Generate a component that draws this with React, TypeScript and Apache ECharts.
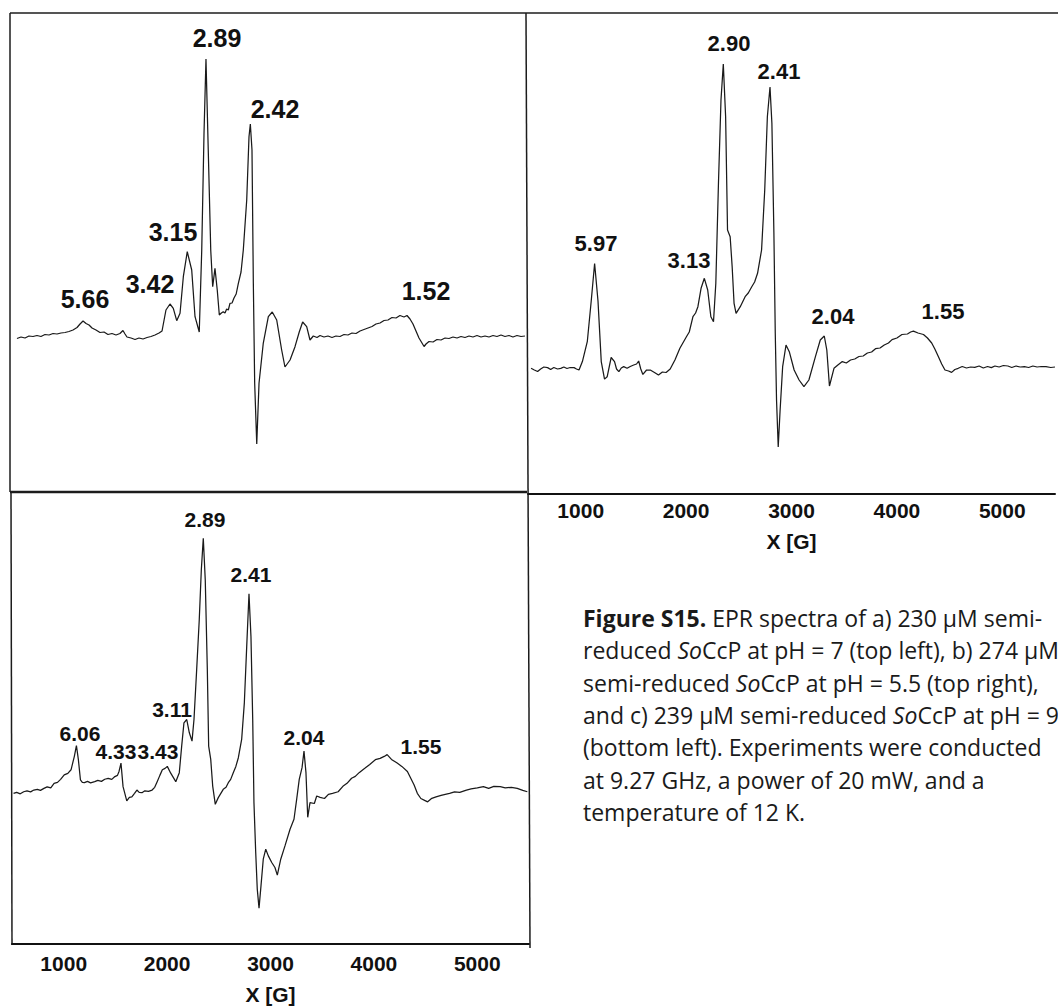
import React, { useEffect, useRef } from "react";
import * as echarts from "echarts";

// EPR spectra as [magnetic field (G), signal (arb. units, baseline = 0)]
// a) pH 7
const spectrumA: [number, number][] = [
  [548, -2.5], [587, -1], [626, -2], [664, 0], [703, -0.5], [742, 0.5], [780, -0.5], [819, 1.5], [858, 1], [897, 2.5],
  [935, 2], [974, 3], [1013, 3.5], [1051, 4.5], [1090, 6], [1129, 8.5], [1158, 12], [1187, 15], [1216, 12.5], [1245, 11],
  [1274, 8], [1312, 6], [1351, 3.5], [1390, 4], [1428, 1.5], [1467, 2.5], [1506, 1], [1544, 2.5], [1573, 5.5], [1593, 2],
  [1612, -1], [1651, -2], [1690, -3.5], [1728, -2], [1767, -3], [1806, -1.5], [1844, -0.5], [1883, 1], [1922, 3], [1951, 5],
  [1989, 26], [2028, 32], [2060, 27.7], [2093, 15.3], [2125, 22.7], [2157, 59.3], [2195, 84.3], [2238, 66], [2270, 19.3], [2311, 4],
  [2335, 86], [2357, 202.7], [2376, 277], [2398, 186], [2422, 86], [2441, 49.3], [2463, 67.7], [2485, 46], [2505, 21], [2525, 23],
  [2543, 24.3], [2560, 23], [2576, 27], [2592, 26], [2608, 32.7], [2628, 33], [2647, 38], [2668, 42], [2689, 52.7], [2715, 64],
  [2737, 86], [2770, 136], [2792, 199.3], [2805, 212], [2821, 186], [2834, 52.7], [2847, -47.3], [2867, -108], [2889, -47.3], [2930, -7.3],
  [2979, 19.3], [3017, 24], [3060, 16], [3108, -14], [3140, -31], [3189, -24], [3237, -10.7], [3278, 4], [3311, 14], [3350, 9.3],
  [3382, -4], [3414, 0], [3450, -1.5], [3479, 0.5], [3517, -1], [3556, 0], [3595, -1.5], [3633, 0], [3672, -0.5], [3711, 1.5],
  [3749, 1], [3788, 3], [3827, 2.5], [3866, 5], [3904, 6.5], [3943, 8], [3982, 9.5], [4020, 12], [4059, 13], [4098, 15.5],
  [4136, 16], [4175, 18.5], [4214, 18], [4252, 20.5], [4291, 19], [4320, 20.5], [4349, 17], [4378, 12], [4407, 5], [4436, -2],
  [4465, -7], [4485, -10.5], [4504, -8], [4533, -5.5], [4572, -6], [4610, -3.5], [4649, -4], [4688, -2], [4726, -2.5], [4765, -1],
  [4804, -2], [4842, -0.5], [4881, -1.5], [4920, 0], [4958, -1], [4997, 0.5], [5036, -1], [5074, 0], [5113, -1], [5152, 0.5],
  [5190, -0.5], [5229, 1], [5268, -0.5], [5306, 0.5], [5345, -1], [5384, 0.5], [5423, -0.5], [5461, 0],
];

// b) pH 5.5
const spectrumB: [number, number][] = [
  [529, -0.3], [560, -2], [591, -3.5], [620, -1], [650, 1], [686, 0.4], [715, -1.5], [745, 0.5], [780, -1], [811, -0.3],
  [840, 1], [870, -0.5], [900, 0.5], [937, 0.4], [960, -1], [984, -2], [1016, 6.4], [1063, 26.7], [1100, 67.3], [1132, 104.5],
  [1164, 67.3], [1195, 6.4], [1226, -11.1], [1251, -8.8], [1289, 10.5], [1321, 6.4], [1340, -1], [1362, -3.7], [1385, 0], [1408, 1.4],
  [1440, -0.3], [1470, 1.5], [1503, 3], [1530, 4], [1550, 7], [1570, -1], [1590, -6.4], [1625, -2], [1660, -2], [1700, -4.5],
  [1738, -7.1], [1775, -4], [1810, -4.5], [1849, -1], [1894, 8], [1941, 19.7], [2003, 31.3], [2030, 36], [2065, 51.3], [2090, 55],
  [2112, 61.3], [2142, 79.7], [2173, 89.7], [2205, 78], [2235, 51.3], [2260, 46.3], [2282, 84.7], [2307, 184.7], [2331, 268], [2353, 304],
  [2375, 251.3], [2393, 138], [2418, 131.3], [2437, 101.3], [2455, 64.7], [2474, 54.7], [2514, 61.3], [2560, 71.3], [2590, 75], [2623, 81.3],
  [2650, 86], [2678, 94.7], [2716, 118], [2746, 178], [2771, 251.3], [2796, 281], [2814, 244.7], [2833, 134.7], [2846, 34.7], [2858, -32],
  [2874, -79], [2892, -42], [2916, 1.3], [2948, 23], [2979, 16.3], [3025, -2], [3072, -12], [3118, -18.7], [3165, -12], [3227, 11.3],
  [3273, 28], [3311, 32], [3335, 18], [3360, -18], [3403, -0.3], [3440, 3], [3482, 6.4], [3520, 5], [3560, 8], [3600, 9],
  [3640, 11.5], [3680, 12], [3720, 15], [3760, 16], [3797, 19.3], [3840, 20], [3880, 23], [3920, 25], [3954, 28.4], [4000, 30],
  [4048, 33.5], [4100, 34], [4130, 36], [4157, 36.9], [4200, 35], [4252, 33.5], [4290, 30], [4330, 25], [4360, 19], [4393, 11.5],
  [4425, 4], [4456, -2], [4490, -3], [4519, -4.4], [4550, -1.5], [4582, -0.3], [4620, 1.5], [4660, 0], [4700, 1], [4739, 0.7],
  [4780, 2], [4820, 0], [4860, 1.5], [4896, 0.4], [4930, 2], [4970, 1], [5010, 2.5], [5053, 2], [5090, 0.5], [5130, 2],
  [5170, 1], [5210, 1.4], [5250, 0.5], [5290, 2], [5330, 1], [5370, 1.5], [5414, 1.4], [5460, 0.5], [5500, 1],
];

// c) pH 9
const spectrumC: [number, number][] = [
  [515, -2.1], [545, -1], [580, -2.5], [613, -0.4], [645, 0.5], [680, -0.5], [711, 1.3], [745, 2], [775, 1], [809, 3],
  [840, 4.5], [875, 3.5], [907, 8], [940, 9], [970, 12], [1005, 16.5], [1040, 18], [1071, 21.6], [1103, 35.1], [1123, 45.9],
  [1142, 31.7], [1162, 11.4], [1180, 9], [1201, 8.7], [1230, 10], [1260, 8.5], [1300, 9.7], [1330, 11], [1365, 10], [1397, 12.1],
  [1430, 13], [1465, 12], [1495, 14.8], [1520, 16], [1535, 19.9], [1554, 28.3], [1574, 4.7], [1610, -9.5], [1635, -6], [1659, -5.5],
  [1685, -2], [1708, 1.3], [1730, -1], [1757, -1.4], [1785, 0.5], [1820, 0], [1855, 1.3], [1880, 4], [1904, 9.7], [1930, 16],
  [1954, 21.6], [1980, 23], [2002, 25], [2035, 18.2], [2084, 9.7], [2118, 18.7], [2141, 45.3], [2163, 68.7], [2190, 72], [2215, 58.7],
  [2241, 50.3], [2260, 72], [2286, 122], [2311, 172], [2331, 222], [2350, 253.7], [2369, 212], [2389, 122], [2402, 45.3], [2422, 32],
  [2441, 5.3], [2466, -13], [2495, -6.3], [2543, 2], [2570, 4], [2592, 8.7], [2615, 12], [2640, 18.7], [2665, 25], [2689, 33.7],
  [2721, 52], [2747, 88.7], [2770, 145.3], [2792, 198], [2811, 155.3], [2828, 72], [2840, -11.3], [2857, -61.3], [2872, -98], [2889, -117],
  [2908, -94.7], [2930, -68], [2954, -58], [2979, -64.7], [3012, -71.3], [3043, -76.3], [3066, -84], [3099, -68], [3140, -54.7], [3189, -38],
  [3227, -28], [3253, -8], [3278, 12], [3305, 23.7], [3324, 40.3], [3343, 18.7], [3360, -26], [3382, -11.3], [3424, -12.2], [3447, -4.7],
  [3480, -6], [3522, -7.2], [3560, -3], [3600, -2], [3654, -0.4], [3700, 5], [3740, 8], [3784, 13.1], [3820, 15], [3860, 19],
  [3915, 23.3], [3960, 27], [4014, 31.7], [4060, 33], [4100, 35], [4128, 36.8], [4170, 32], [4225, 28.3], [4270, 25], [4324, 19.9],
  [4389, 6.4], [4420, -2], [4454, -7.2], [4490, -9], [4520, -10.5], [4560, -7], [4601, -5.5], [4650, -4], [4690, -3], [4732, -2.1],
  [4780, -0.5], [4830, -1], [4895, 1.3], [4940, 2.5], [5000, 3.5], [5059, 4.7], [5110, 3], [5160, 5], [5222, 4.7], [5270, 3.5],
  [5330, 4], [5386, 3], [5440, 1], [5484, -0.4],
];

// g-value annotations for each spectrum
const gLabelsA = ["2.89", "2.42", "3.15", "5.66", "3.42", "1.52"];
const gLabelsB = ["2.90", "2.41", "5.97", "3.13", "2.04", "1.55"];
const gLabelsC = ["2.89", "2.41", "3.11", "6.06", "2.04", "4.33", "3.43", "1.55"];

const fieldTicks = [1000, 2000, 3000, 4000, 5000];
const fieldTitle = "X [G]";

const captionLines = [
  "{b|Figure S15.}{n| EPR spectra of a) 230 µM semi-}",
  "{n|reduced }{i|So}{n|CcP at pH = 7 (top left), b) 274 µM}",
  "{n|semi-reduced }{i|So}{n|CcP at pH = 5.5 (top right),}",
  "{n|and c) 239 µM semi-reduced }{i|So}{n|CcP at pH = 9}",
  "{n|(bottom left). Experiments were conducted}",
  "{n|at 9.27 GHz, a power of 20 mW, and a}",
  "{n|temperature of 12 K.}",
];

// ---- layout (pixels) ----
const W = 1058;
const H = 1006;
const labelPosA = [[217, 38], [275, 109], [173, 232], [85, 299], [150, 284], [426, 291]];
const labelPosB = [[729, 43], [779, 71], [596, 243], [689, 260], [833, 316], [943, 311]];
const labelPosC = [[205, 519], [251, 574], [172, 709], [80, 733], [304, 737], [116, 751], [158, 751], [421, 746]];
const captionX = 583;
const captionY0 = 618;
const captionStep = 32.3;
const captionSize = 23;

const INK = "#111";
const numFont = "'Liberation Sans', Arial, Helvetica, sans-serif";
const captionFont = "'Open Sans', Lato, sans-serif";

function fieldAxis(gridIndex: number, show: boolean, margin: number, gap: number) {
  return {
    type: "value",
    gridIndex,
    min: 500,
    max: 5500,
    interval: 500,
    show,
    axisLine: { show: true, onZero: false, lineStyle: { color: INK, width: 2 } },
    axisTick: { show: false },
    splitLine: { show: false },
    axisLabel: {
      margin,
      color: INK,
      fontSize: 21,
      fontWeight: "bold",
      fontFamily: numFont,
      formatter: (v: number) => (fieldTicks.includes(v) ? String(v) : ""),
    },
    name: fieldTitle,
    nameLocation: "middle",
    nameGap: gap,
    nameTextStyle: { color: INK, fontSize: 21, fontWeight: "bold", fontFamily: numFont },
  };
}

function signalAxis(gridIndex: number, min: number, max: number) {
  return { type: "value", gridIndex, min, max, show: false, splitLine: { show: false } };
}

function spectrumSeries(data: [number, number][], idx: number) {
  return {
    type: "line",
    xAxisIndex: idx,
    yAxisIndex: idx,
    data,
    symbol: "none",
    showSymbol: false,
    silent: true,
    lineStyle: { color: "#1a1a1a", width: 1.25 },
  };
}

function gText(texts: string[], pos: number[][], size: number) {
  return texts.map((t, k) => ({
    type: "text",
    x: pos[k][0],
    y: pos[k][1],
    silent: true,
    style: {
      text: t,
      fill: INK,
      fontSize: size,
      fontWeight: "bold",
      fontFamily: numFont,
      align: "center",
      verticalAlign: "middle",
      textAlign: "center",
      textVerticalAlign: "middle",
    },
  }));
}

function frameLine(x1: number, y1: number, x2: number, y2: number, w: number) {
  return {
    type: "line",
    silent: true,
    shape: { x1, y1, x2, y2 },
    style: { stroke: "#1c1c1c", lineWidth: w },
  };
}

export default function App() {
  const ref = useRef<HTMLDivElement>(null);

  useEffect(() => {
    if (!ref.current) return;
    const chart = echarts.init(ref.current, undefined, { renderer: "svg" });

    const captionStyle = { fontSize: captionSize, fontFamily: captionFont, fill: "#1a1a1a", color: "#1a1a1a" };
    const caption = captionLines.map((line, k) => ({
      type: "text",
      x: captionX,
      y: captionY0 + k * captionStep,
      silent: true,
      style: {
        text: line,
        fill: "#1a1a1a",
        align: "left",
        verticalAlign: "middle",
        textAlign: "left",
        textVerticalAlign: "middle",
        rich: {
          b: { ...captionStyle, fontWeight: "bold" },
          n: { ...captionStyle },
          i: { ...captionStyle, fontStyle: "italic" },
        },
      },
    }));

    chart.setOption({
      animation: false,
      backgroundColor: "#fff",
      grid: [
        { left: 12, top: 13, width: 517, height: 479 },
        { left: 528, top: 13, width: 538, height: 481 },
        { left: 12, top: 492, width: 517, height: 453 },
      ],
      xAxis: [fieldAxis(0, false, 9, 40), fieldAxis(1, true, 6, 37), fieldAxis(2, true, 9, 40)],
      yAxis: [signalAxis(0, -156, 323), signalAxis(1, -126, 355), signalAxis(2, -153, 300)],
      series: [spectrumSeries(spectrumA, 0), spectrumSeries(spectrumB, 1), spectrumSeries(spectrumC, 2)],
      graphic: [
        frameLine(10, 13, W, 13, 1.5),
        frameLine(10, 13, 10, 492, 1.5),
        frameLine(10, 492, 527, 492, 2.5),
        frameLine(526, 13, 530, 948, 1.5),
        frameLine(11, 492, 12, 945, 1.5),
        ...gText(gLabelsA, labelPosA, 25),
        ...gText(gLabelsB, labelPosB, 22),
        ...gText(gLabelsC, labelPosC, 21),
        ...caption,
      ],
    });

    return () => chart.dispose();
  }, []);

  return (
    <div
      ref={ref}
      style={{ position: "absolute", left: 0, top: 0, width: W, height: H, background: "#fff" }}
    />
  );
}
